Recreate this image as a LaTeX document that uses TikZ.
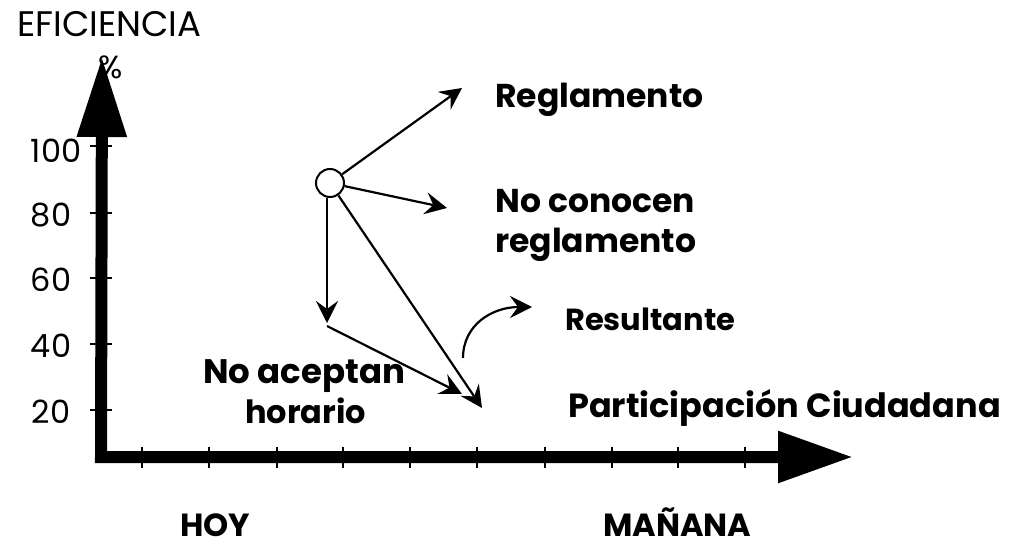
\documentclass[tikz,border=0pt]{standalone}
\usepackage{fontspec}
\setmainfont{Poppins}
\usetikzlibrary{arrows.meta}
\begin{document}
\begin{tikzpicture}[x=1pt,y=-1pt,
  axis/.style={line width=12pt, line join=miter},
  tick/.style={line width=2.5pt},
  vec/.style={line width=2.2pt, -{Stealth[length=22pt,width=22pt,inset=8pt]}},
  lbl/.style={font=\fontsize{35.5}{38}\selectfont, inner sep=0pt, anchor=base west},
  num/.style={font=\fontsize{32}{36}\selectfont, inner sep=0pt},
  blbl/.style={font=\bfseries\fontsize{32}{38}\selectfont, inner sep=0pt, anchor=base west}]
\useasboundingbox (0,0) rectangle (1010,546);
% axes
\coordinate (O) at (101,457);
\coordinate (YT) at (102,57);
\coordinate (XT) at (853,457);
\draw[axis, {Triangle[length=75pt,width=49pt]}-{Triangle[length=80pt,width=47pt]}] (XT) -- (O) -- (YT);
\foreach \y in {146,213,278,344,410} \draw[tick] (90,\y) -- (112,\y);
\foreach \x in {142,209,277,343,410,477,545,612,678,745} \draw[tick] (\x,447) -- (\x,468);
% axis labels
\node[lbl] (ef) at (17,36) {EFICIENCIA};
\node[font=\fontsize{32}{34}\selectfont, inner sep=0pt] (pct) at (111,67) {\%};
\node[num] (n100) at (56,151) {100};
\node[num] (n80) at (51,215) {80};
\node[num] (n60) at (51,280) {60};
\node[num] (n40) at (51,346) {40};
\node[num] (n20) at (51,412) {20};
% vectors
\node[circle, draw, line width=2pt, minimum size=28pt, inner sep=0pt, fill=white] (c) at (330,183) {};
\coordinate (reg) at (462,88);
\coordinate (noc) at (447,208);
\coordinate (dn) at (327,323);
\coordinate (na) at (462,394);
\coordinate (res) at (482,408);
\draw[vec] (c) -- (reg);
\draw[vec] (c) -- (noc);
\draw[vec] (c.270) ++(-3,0) coordinate (cs) (cs) -- (dn);
\draw[vec] (dn) ++(0,3) coordinate (dn2) (dn2) -- (na);
\draw[vec] (c) -- (res);
\coordinate (r0) at (463,358);
\coordinate (r1) at (532,307);
\draw[vec] (r0) .. controls (463,325) and (492,307) .. (r1);
% labels
\node[blbl, font=\bfseries\fontsize{33}{38}\selectfont] (lreg) at (495,107) {Reglamento};
\node[blbl, font=\bfseries\fontsize{33}{38}\selectfont] (lnoc1) at (495,212) {No conocen};
\node[blbl, font=\bfseries\fontsize{33}{38}\selectfont] (lnoc2) at (495,252) {reglamento};
\node[blbl, font=\bfseries\fontsize{30.5}{38}\selectfont] (lres) at (565,330) {Resultante};
\node[blbl, font=\bfseries\fontsize{34}{38}\selectfont] (lna1) at (203,383) {No aceptan};
\node[blbl] (lna2) at (245,423) {horario};
\node[blbl, font=\bfseries\fontsize{33.5}{38}\selectfont] (lpc) at (568,417) {Participación Ciudadana};
\node[blbl] (hoy) at (180,536) {HOY};
\node[blbl] (man) at (603,536) {MAÑANA};
\end{tikzpicture}
\end{document}
